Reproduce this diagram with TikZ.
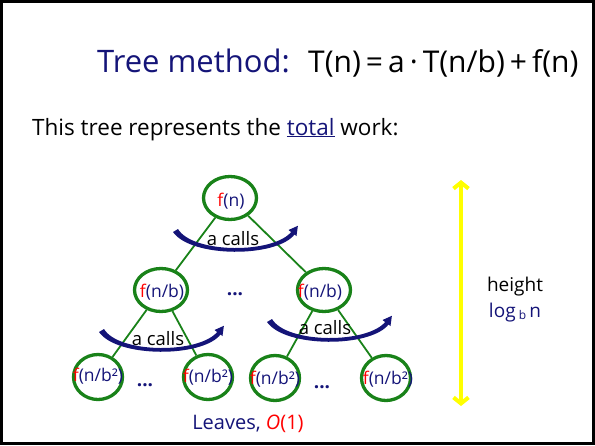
\documentclass[tikz,border=0pt]{standalone}
\usepackage{fontspec}
\setmainfont{Open Sans}
\usetikzlibrary{shapes.geometric,arrows.meta}
\definecolor{navy}{RGB}{20,20,120}
\definecolor{tgreen}{RGB}{25,130,25}
\definecolor{tred}{RGB}{255,0,0}
\definecolor{tyellow}{RGB}{255,255,0}
\newcommand{\fr}{{\color{tred}f}}
\begin{document}
\begin{tikzpicture}[x=1pt,y=-1pt,
  tnode/.style={draw=tgreen,line width=3.3pt,ellipse,inner sep=0pt},
  lvA/.style={tnode,minimum width=53pt,minimum height=43pt},
  lvB/.style={tnode,minimum width=49pt,minimum height=45pt},
  ntext/.style={inner sep=0pt,text=navy,font=\fontsize{17.5}{17.5}\selectfont},
  edge/.style={draw=tgreen,line width=1.8pt},
  calltext/.style={inner sep=0pt,font=\fontsize{18.5}{18.5}\selectfont},
  dots/.style={inner sep=0pt,text=navy,font=\fontsize{19}{19}\selectfont\bfseries},
  callarc/.pic={
    \fill[navy] (0,0) .. controls (18,26) and (104,26) .. (122,2)
      -- (119,-1) .. controls (102,22) and (20,22) .. (5,-3) -- cycle;
    \fill[navy] (124.9,-6.2) -- (123.5,4) -- (115.5,-2) -- cycle;
  }]
\useasboundingbox (0,0) rectangle (595,445);
\draw[line width=3pt] (1.5,1.5) rectangle (593.5,443.5);

% title
\node[anchor=base west,inner sep=0pt,text=navy,font=\fontsize{31}{31}\selectfont] (title) at (97,72) {Tree method:};
\node[anchor=base west,inner sep=0pt,font=\fontsize{30}{30}\selectfont] (formula) at (308,72) {T(n)\,=\,a\,·\,T(n/b)\,+\,f(n)};
\node[anchor=base west,inner sep=0pt,font=\fontsize{22.5}{22.5}\selectfont] (intro) at (32,135) {This tree represents the \textcolor{navy}{\underline{total}} work:};

% tree nodes
\node[lvA] (r) at (230,198) {};
\node[lvA] (a) at (161,290) {};
\node[lvA] (b) at (324,290) {};
\node[lvB] (c) at (98,377) {};
\node[lvB] (d) at (208,377) {};
\node[lvB] (e) at (275,378) {};
\node[lvB] (f) at (386,378) {};

\path[edge] (r) -- (a);
\path[edge] (r) -- (b);
\path[edge] (a) -- (c);
\path[edge] (a) -- (d);
\path[edge] (b) -- (e);
\path[edge] (b) -- (f);

\node[ntext] (rt) at (231,201) {\fr(n)};
\node[ntext] (at) at (162,292) {\fr(n/b)};
\node[ntext] (bt) at (320,292) {\fr(n/b)};
\node[ntext] (ct) at (98,376) {\fr(n/b²)};
\node[ntext] (dt) at (208,377) {\fr(n/b²)};
\node[ntext] (et) at (275,379) {\fr(n/b²)};
\node[ntext] (ft) at (388,379) {\fr(n/b²)};

% a calls arcs
\pic at (173,232) {callarc};
\pic at (99,332) {callarc};
\pic at (267,322) {callarc};
\node[calltext] (ca1) at (233,239) {a calls};
\node[calltext] (ca2) at (158,339) {a calls};
\node[calltext] (ca3) at (325,328) {a calls};

% dots
\node[dots] (d1) at (235,294) {...};
\node[dots] (d2) at (145,385) {...};
\node[dots] (d3) at (322,387) {...};

% leaves
\node[inner sep=0pt,font=\fontsize{20}{20}\selectfont] (leaves) at (248,424) {\textcolor{navy}{Leaves,} \textcolor{tred}{\textit{O}(1)}};

% height arrow
\coordinate (htop) at (461,180);
\coordinate (hbot) at (461,406);
\draw[tyellow,line width=4pt,{Straight Barb[length=6pt,width=15pt]}-{Straight Barb[length=6pt,width=15pt]}] (htop) -- (hbot);
\node[inner sep=0pt,font=\fontsize{19}{19}\selectfont] (hgt) at (515,287) {height};
\node[inner sep=0pt,text=navy,font=\fontsize{19}{19}\selectfont] (lg) at (515,313) {log\,\raisebox{-2pt}{\fontsize{12}{12}\selectfont b}\,n};
\end{tikzpicture}
\end{document}
